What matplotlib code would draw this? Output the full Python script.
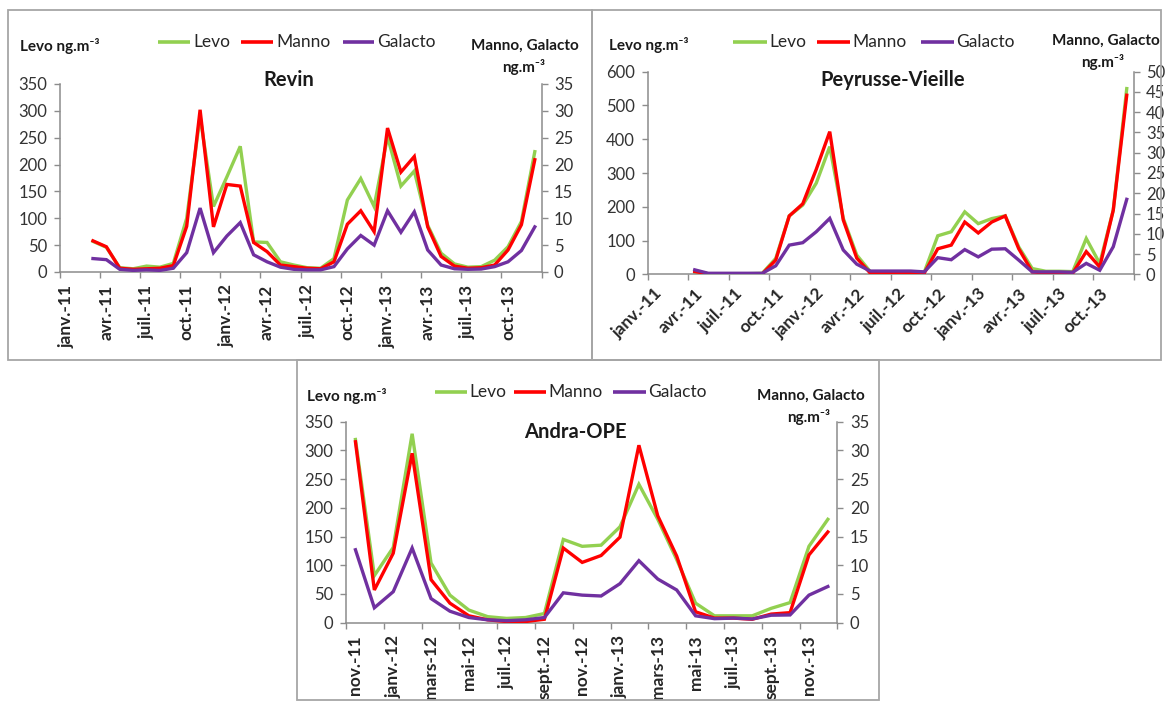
import numpy as np
import matplotlib
matplotlib.use("Agg")
import matplotlib.pyplot as plt
from matplotlib.patches import Rectangle
from matplotlib.lines import Line2D

W, H = 1167, 706
plt.rcParams['font.family'] = ['Lato', 'DejaVu Sans']

LEVO_C = '#92D050'
MANNO_C = '#FF0000'
GALACTO_C = '#7030A0'
AXIS_C = '#8c8c8c'
TEXT_C = '#262626'

# ---------------- Revin (month 0 = janv. 2011, data from mars 2011) ----------------
revin_start = 2
revin_levo = [57, 46, 8, 6, 11, 9, 16, 100, 290, 122, 177, 234, 56, 55, 19, 13, 8, 7,
              25, 134, 174, 122, 252, 160, 188, 87, 35, 15, 9, 10, 22, 47, 94, 224]
revin_manno = [5.8, 4.7, 0.7, 0.5, 0.6, 0.7, 1.2, 8.5, 30.2, 8.4, 16.3, 16.0, 5.5, 3.8,
               1.3, 1.0, 0.7, 0.6, 1.9, 8.9, 11.4, 7.5, 26.8, 18.6, 21.5, 8.4, 2.9,
               1.1, 0.7, 0.8, 1.3, 4.1, 8.8, 20.9]
revin_galacto = [2.5, 2.3, 0.5, 0.3, 0.4, 0.3, 0.7, 3.6, 11.9, 3.6, 6.7, 9.2, 3.2, 1.9,
                 0.9, 0.5, 0.4, 0.4, 1.0, 4.3, 6.8, 5.0, 11.4, 7.4, 11.2, 4.1, 1.3,
                 0.6, 0.5, 0.55, 1.0, 1.9, 4.0, 8.4]
revin_labels = ['janv.-11', 'avr.-11', 'juil.-11', 'oct.-11', 'janv.-12', 'avr.-12',
                'juil.-12', 'oct.-12', 'janv.-13', 'avr.-13', 'juil.-13', 'oct.-13']

# ---------------- Peyrusse-Vieille (data from avr. 2011) ----------------
pv_start = 3
pv_levo = [5, 2, 2, 2, 2, 3, 47, 173, 205, 270, 378, 166, 57, 8, 5, 5, 5, 6,
           114, 126, 185, 150, 165, 173, 81, 17, 9, 9, 8, 106, 32, 190, 550]
pv_manno = [0.7, 0.1, 0.1, 0.1, 0.1, 0.1, 3.5, 14.4, 17.4, 25.9, 35.2, 13.4, 4.0, 0.3,
            0.2, 0.2, 0.2, 0.3, 6.3, 7.2, 12.9, 10.2, 12.9, 14.4, 6.3, 0.6, 0.3, 0.3,
            0.3, 5.6, 1.8, 15.8, 44.2]
pv_galacto = [1.1, 0.25, 0.25, 0.25, 0.25, 0.25, 2.1, 7.2, 7.8, 10.5, 13.8, 6.0, 2.5,
              0.8, 0.8, 0.8, 0.8, 0.6, 4.1, 3.6, 6.1, 4.3, 6.2, 6.3, 3.5, 0.6, 0.6,
              0.6, 0.5, 2.7, 1.0, 6.8, 18.5]
pv_labels = revin_labels

# ---------------- Andra-OPE (month 0 = nov. 2011) ----------------
andra_start = 0
andra_levo = [319, 82, 131, 329, 104, 48, 22, 10.5, 7.5, 9, 16, 145, 133, 135, 167,
              241, 180, 110, 34, 12, 12, 12, 25, 35, 133, 180]
andra_manno = [31.5, 5.7, 12.1, 29.5, 7.5, 3.4, 1.2, 0.5, 0.2, 0.2, 0.6, 13.0, 10.5,
               11.7, 14.9, 30.9, 18.6, 11.6, 1.9, 0.8, 0.8, 0.6, 1.5, 1.75, 11.8, 15.8]
andra_galacto = [12.7, 2.6, 5.4, 13.0, 4.2, 2.0, 0.9, 0.5, 0.35, 0.5, 0.9, 5.2, 4.8,
                 4.65, 6.8, 10.8, 7.6, 5.7, 1.2, 0.7, 0.8, 0.65, 1.3, 1.35, 4.8, 6.3]
andra_labels = ['nov.-11', 'janv.-12', 'mars-12', 'mai-12', 'juil.-12', 'sept.-12',
                'nov.-12', 'janv.-13', 'mars-13', 'mai-13', 'juil.-13', 'sept.-13',
                'nov.-13']

fig = plt.figure(figsize=(W / 100, H / 100), dpi=100)
fig.patch.set_facecolor('white')


def fx(x):
    return x / W


def fy(y):
    return 1 - y / H


def frame(x0, y0, x1, y1):
    fig.add_artist(Rectangle((fx(x0), fy(y1)), (x1 - x0) / W, (y1 - y0) / H,
                             transform=fig.transFigure, fill=False,
                             ec='#a6a6a6', lw=1.3))


def legend(items, y):
    for (x0, x1, tx, name, col) in items:
        fig.add_artist(Line2D([fx(x0), fx(x1)], [fy(y), fy(y)], transform=fig.transFigure,
                              color=col, lw=2.6, solid_capstyle='butt'))
        fig.text(fx(tx), fy(y), name, fontsize=12.5, va='center', ha='left', color=TEXT_C)


def axis_title(x, y, s, ha):
    fig.text(fx(x), fy(y), s, fontsize=11, fontweight='bold',
             ha=ha, va='center', color='#1a1a1a')


def panel(rect, nmonths, step, labels, start, levo, manno, galacto,
          lmax, lstep, rmax, rstep, rot, title, title_xy):
    left, top, right, bottom = rect
    ax = fig.add_axes([fx(left), fy(bottom), (right - left) / W, (bottom - top) / H])
    ax2 = ax.twinx()
    x = np.arange(start, start + len(levo)) + 0.5
    ax.plot(x, levo, color=LEVO_C, lw=2.4, solid_joinstyle='miter')
    ax2.plot(x, manno, color=MANNO_C, lw=2.4, solid_joinstyle='miter')
    ax2.plot(x, galacto, color=GALACTO_C, lw=2.4, solid_joinstyle='miter')

    ax.set_xlim(0, nmonths)
    ax.set_ylim(0, lmax)
    ax2.set_ylim(0, rmax)
    ax.set_yticks(np.arange(0, lmax + 1, lstep))
    ax2.set_yticks(np.arange(0, rmax + 1, rstep))

    ax.set_xticks(np.arange(0, nmonths + 1, step))
    ax.set_xticklabels([])
    if rot == 90:
        ax.set_xticks(np.arange(0, nmonths, step) + 0.5, minor=True)
        ax.set_xticklabels(labels, minor=True, rotation=90, fontweight='bold',
                           fontsize=12.5, color=TEXT_C, va='top', ha='center')
        ax.tick_params(axis='x', which='minor', length=0, pad=9)
    else:
        ax.set_xticks(np.arange(0, nmonths, step) + 0.9, minor=True)
        ax.set_xticklabels(labels, minor=True, rotation=45, fontweight='bold',
                           fontsize=12.5, color=TEXT_C, va='center', ha='right',
                           rotation_mode='anchor')
        ax.tick_params(axis='x', which='minor', length=0, pad=12)
    ax.tick_params(axis='x', which='major', length=4.5, width=1, color=AXIS_C, direction='out')
    ax.tick_params(axis='y', length=4, width=1, color=AXIS_C, labelsize=12,
                   labelcolor='#333333', pad=5)
    ax2.tick_params(axis='y', length=4, width=1, color=AXIS_C, labelsize=12,
                    labelcolor='#333333', pad=5)

    for s in ['top', 'right']:
        ax.spines[s].set_visible(False)
    for s in ['top', 'left', 'bottom']:
        ax2.spines[s].set_visible(False)
    for s in ['left', 'bottom']:
        ax.spines[s].set_color(AXIS_C)
        ax.spines[s].set_linewidth(1.1)
    ax2.spines['right'].set_color(AXIS_C)
    ax2.spines['right'].set_linewidth(1.1)
    ax.patch.set_visible(False)

    fig.text(fx(title_xy[0]), fy(title_xy[1]), title, fontsize=14.5, fontweight='bold',
             ha='center', va='center', color='#1a1a1a')
    return ax, ax2


# ---- frames ----
frame(8, 10, 592, 360)
frame(592, 10, 1161, 360)
frame(297, 360, 879, 700)

# ---- Revin ----
panel((59.5, 84, 541.5, 272), 36, 3, revin_labels, revin_start,
      revin_levo, revin_manno, revin_galacto, 350, 50, 35, 5, 90, 'Revin', (289, 80))
axis_title(20, 46, 'Levo ng.m⁻³', 'left')
axis_title(579, 46, 'Manno, Galacto', 'right')
axis_title(545, 67, 'ng.m⁻³', 'right')
legend([(158, 190, 193, 'Levo', LEVO_C), (241, 273, 276, 'Manno', MANNO_C),
        (343, 374, 377, 'Galacto', GALACTO_C)], 42)

# ---- Peyrusse-Vieille ----
panel((647.5, 71.7, 1133.5, 274.3), 36, 3, pv_labels, pv_start,
      pv_levo, pv_manno, pv_galacto, 600, 100, 50, 5, 45, 'Peyrusse-Vieille', (893, 80))
axis_title(609, 45, 'Levo ng.m⁻³', 'left')
axis_title(1160, 41, 'Manno, Galacto', 'right')
axis_title(1124, 62, 'ng.m⁻³', 'right')
legend([(733, 767, 769, 'Levo', LEVO_C), (817, 850, 852, 'Manno', MANNO_C),
        (921, 954, 956, 'Galacto', GALACTO_C)], 42)

# ---- Andra-OPE ----
panel((346, 421.7, 837.3, 622.7), 26, 2, andra_labels, andra_start,
      andra_levo, andra_manno, andra_galacto, 350, 50, 35, 5, 90, 'Andra-OPE', (575, 432))
axis_title(307, 396, 'Levo ng.m⁻³', 'left')
axis_title(865, 396, 'Manno, Galacto', 'right')
axis_title(830, 417, 'ng.m⁻³', 'right')
legend([(435, 467, 469, 'Levo', LEVO_C), (514, 546, 548, 'Manno', MANNO_C),
        (613, 646, 648, 'Galacto', GALACTO_C)], 392)

fig.savefig('out.png', dpi=100, facecolor='white')
